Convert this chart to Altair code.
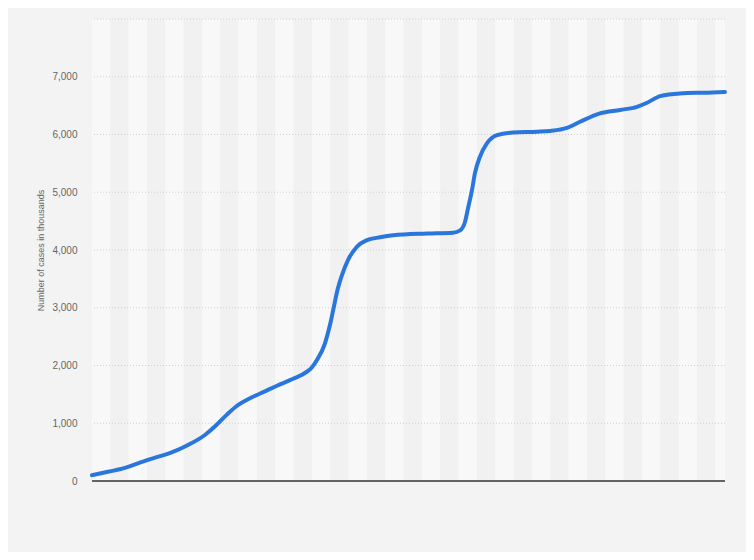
import altair as alt
import pandas as pd

# month offsets from start of series (one band per month)
months = [0, 0.87, 1.58, 2.51, 3.44, 4.31, 5.24, 6.16, 6.76, 7.36, 7.86, 8.73, 9.49,
          10.09, 10.97, 11.73, 12.00, 12.27, 12.71, 12.98, 13.17, 13.40, 13.64, 13.97, 14.46,
          15.00, 15.71, 16.42, 18.28, 19.69, 20.08, 20.35, 20.51, 20.73, 20.89,
          21.17, 21.55, 22.09, 22.97, 24.28, 24.99, 25.91, 26.62, 27.71, 28.81,
          29.73, 30.28, 30.99, 32.08, 33.56, 34.53]
cases = [100, 160, 208, 306, 404, 490, 623, 797, 960, 1150, 1290, 1450, 1560,
         1650, 1770, 1893, 1970, 2095, 2385, 2700, 2980, 3320, 3570, 3830, 4060,
         4170, 4220, 4255, 4285, 4300, 4340, 4490, 4720, 5040, 5330,
         5620, 5850, 5990, 6035, 6048, 6062, 6115, 6220, 6365, 6425,
         6480, 6550, 6665, 6712, 6725, 6735]

x_end = 34.53
y_max = 8000
grid_values = [1000, 2000, 3000, 4000, 5000, 6000, 7000, 8000]

df = pd.DataFrame({"month": months, "cases": cases})

band_start = list(range(0, 35))
bands = pd.DataFrame({
    "x0": band_start,
    "x1": [min(b + 1, x_end) for b in band_start],
    "shade": ["a" if b % 2 == 0 else "b" for b in band_start],
    "y0": [0] * len(band_start),
    "y1": [y_max] * len(band_start),
})

xscale = alt.Scale(domain=[0, x_end], nice=False, zero=False)
yscale = alt.Scale(domain=[0, y_max], nice=False)

band_layer = alt.Chart(bands).mark_rect().encode(
    x=alt.X("x0:Q", scale=xscale, axis=None),
    x2="x1:Q",
    y=alt.Y("y0:Q", scale=yscale),
    y2="y1:Q",
    color=alt.Color("shade:N", scale=alt.Scale(domain=["a", "b"], range=["#f8f8f8", "#f1f1f1"]), legend=None),
)

grid_layer = alt.Chart(pd.DataFrame({"g": grid_values})).mark_rule(
    color="#d0d0d0", strokeDash=[1, 2], strokeWidth=1
).encode(y=alt.Y("g:Q", scale=yscale))

line_layer = alt.Chart(df).mark_line(
    color="#2a76dc", strokeWidth=4, interpolate="monotone", strokeCap="round"
).encode(
    x=alt.X("month:Q", scale=xscale, axis=None),
    y=alt.Y("cases:Q", scale=yscale, axis=alt.Axis(
        title="Number of cases in thousands",
        values=[0, 1000, 2000, 3000, 4000, 5000, 6000, 7000, 8000],
        labelExpr="datum.value == 8000 ? '' : format(datum.value, ',')",
        grid=False, domain=False, ticks=False, tickSize=0,
        labelPadding=15, labelFontSize=10, labelColor="#666666",
        labelFont="Liberation Sans",
        titleFont="Liberation Sans", titleFontSize=9, titleFontWeight="normal",
        titleColor="#666666", titlePadding=6,
    )),
)

base_layer = alt.Chart(pd.DataFrame({"b": [0]})).mark_rule(
    color="#333333", strokeWidth=1.5
).encode(y=alt.Y("b:Q", scale=yscale))

chart = alt.layer(band_layer, grid_layer, line_layer, base_layer).properties(
    width=633, height=462,
    autosize=alt.AutoSizeParams(type="none"),
    padding={"left": 84, "top": 11, "right": 21, "bottom": 71},
    background="#f3f3f3",
).configure_view(stroke=None)

chart.save("out.html", embed_options={"renderer": "svg", "actions": False})
